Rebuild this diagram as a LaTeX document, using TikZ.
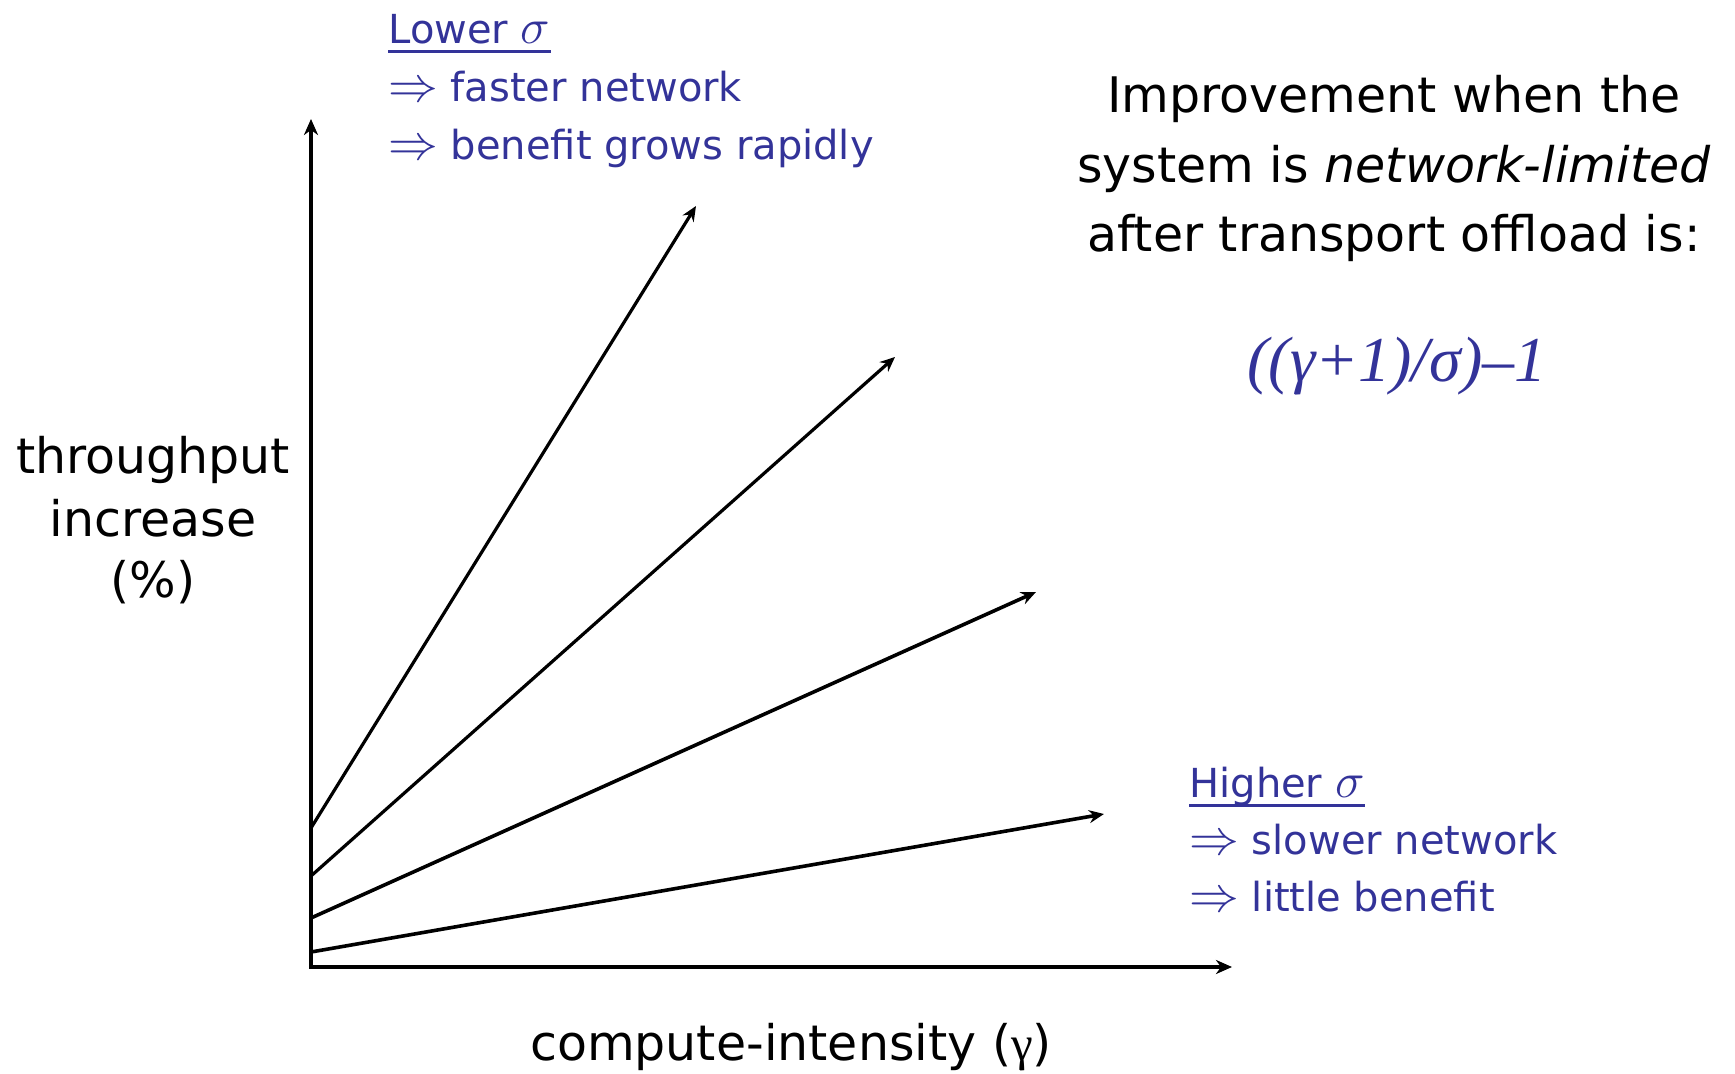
\documentclass[tikz,border=0pt]{standalone}
\usepackage{fontspec}
\setmainfont{DejaVu Sans}
\newfontfamily\tmsfont{Liberation Serif}
\usetikzlibrary{arrows.meta}
\definecolor{noteblue}{HTML}{333399}
% larger double arrow and sigma for the blue notes
\newcommand\notearrow{{\fontsize{23.5}{28}\selectfont$\Rightarrow$}}
\newcommand\notesigma{{\fontsize{23.5}{28}\selectfont$\sigma$}}

\begin{document}
\begin{tikzpicture}[x=0.5pt,y=-0.5pt,
  axis/.style={line width=2pt,
    {Stealth[length=8pt,width=7pt,inset=2.5pt]}-{Stealth[length=8pt,width=7pt,inset=2.5pt]}},
  trend/.style={line width=1.6pt,-{Stealth[length=7.5pt,width=6.5pt,inset=2.5pt]}},
  lbl/.style={font=\fontsize{24.5}{32}\selectfont,inner sep=0pt,anchor=base},
  note/.style={font=\fontsize{20}{28}\selectfont,text=noteblue,inner sep=0pt,anchor=base west},
  uline/.style={draw=noteblue,line width=1.5pt},
]
\useasboundingbox (0,0) rectangle (1735,1074);
\fill[white] (0,0) rectangle (1735,1074);

% axes
\coordinate (O) at (311,967);
\coordinate (ytop) at (311,119);
\coordinate (xend) at (1232,967);
\draw[axis] (ytop) -- (O) -- (xend);

% trend lines, one per value of sigma
\coordinate (s1) at (311,828);  \coordinate (e1) at (696,206);
\coordinate (s2) at (311,876);  \coordinate (e2) at (895,357);
\coordinate (s3) at (311,918);  \coordinate (e3) at (1036,592);
\coordinate (s4) at (311,952);  \coordinate (e4) at (1104,814);
\draw[trend] (s1) -- (e1);
\draw[trend] (s2) -- (e2);
\draw[trend,line width=1.8pt] (s3) -- (e3);
\draw[trend,line width=1.8pt] (s4) -- (e4);

% axis labels
\node[lbl] (yl1) at (153,474) {throughput};
\node[lbl] (yl2) at (153,537) {increase};
\node[lbl] (yl3) at (153,598) {(\%)};
\node[lbl] (xl) at (791,1060) {compute-intensity ({\tmsfont γ})};

% explanation and formula
\node[lbl] (r1) at (1394,113) {Improvement when the};
\node[lbl] (r2) at (1394,183) {system is \textit{network-limited}};
\node[lbl] (r3) at (1394,252) {after transport offload is:};
\node[anchor=base,inner sep=0pt,text=noteblue,
      font=\tmsfont\itshape\fontsize{32}{36}\selectfont] (f) at (1397,382) {((γ+1)/σ)–1};

% notes for low and high sigma
\node[note] (lo1) at (388,44) {Lower \notesigma};
\node[note] (lo2) at (388,102) {\notearrow\ faster network};
\node[note] (lo3) at (388,160) {\notearrow\ benefit grows rapidly};
\draw[uline] ([yshift=-4pt]lo1.base west) -- ([yshift=-4pt]lo1.base east);

\node[note] (hi1) at (1189,797) {Higher \notesigma};
\node[note] (hi2) at (1189,854) {\notearrow\ slower network};
\node[note] (hi3) at (1189,911) {\notearrow\ little benefit};
\draw[uline] ([yshift=-4pt]hi1.base west) -- ([yshift=-4pt]hi1.base east);
\end{tikzpicture}
\end{document}
